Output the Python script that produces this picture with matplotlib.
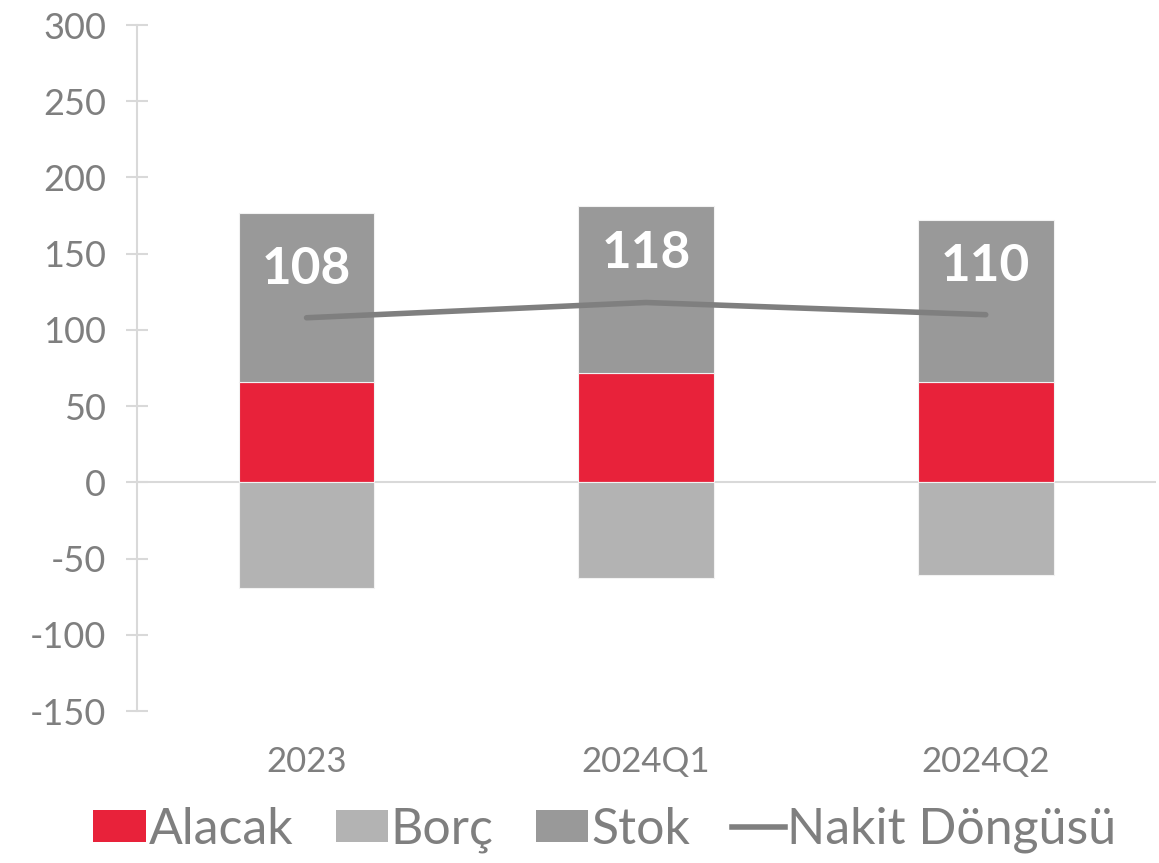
import matplotlib
matplotlib.use("Agg")
import matplotlib.pyplot as plt
from matplotlib.lines import Line2D
from matplotlib.patches import Patch

categories = ["2023", "2024Q1", "2024Q2"]
alacak = [66, 72, 66]
borc = [-69, -63, -61]
stok = [111, 109, 106]
nakit = [108, 118, 110]
yticks = [-150, -100, -50, 0, 50, 100, 150, 200, 250, 300]

plt.rcParams['font.family'] = ['Lato', 'DejaVu Sans']

c_alacak = "#e8223a"
c_borc = "#b3b3b3"
c_stok = "#999999"
c_line = "#7f7f7f"
c_text = "#7f7f7f"
c_axis = "#d9d9d9"

fig = plt.figure(figsize=(11.59, 8.63), dpi=100)
ax = fig.add_axes([0.118, 0.176, 0.879, 0.795])

x = list(range(len(categories)))
w = 0.4
ax.bar(x, alacak, width=w, color=c_alacak, edgecolor="#f2f2f2", linewidth=0.8, zorder=2)
ax.bar(x, borc, width=w, color=c_borc, edgecolor="#f2f2f2", linewidth=0.8, zorder=2)
ax.bar(x, stok, width=w, bottom=alacak, color=c_stok, edgecolor="#f2f2f2", linewidth=0.8, zorder=2)
ax.plot(x, nakit, color=c_line, linewidth=4, solid_capstyle="round", zorder=3)

for xi, v in zip(x, nakit):
    ax.annotate(str(v), (xi, v), xytext=(0, 35), textcoords="offset points",
                ha="center", va="center", fontsize=37, fontweight="bold",
                color="white", zorder=4)

ax.set_xlim(-0.5, 2.5)
ax.set_ylim(-150, 300)
ax.set_yticks(yticks)
ax.set_yticklabels([str(t) for t in yticks])
ax.set_xticks(x)
ax.set_xticklabels(categories)

ax.axhline(0, color=c_axis, linewidth=1.5, zorder=1)
for s in ["top", "right", "bottom"]:
    ax.spines[s].set_visible(False)
ax.spines["left"].set_color(c_axis)
ax.spines["left"].set_linewidth(1.5)

ax.tick_params(axis="y", direction="inout", length=16, width=1.5, color=c_axis,
               labelsize=26, labelcolor=c_text, pad=14)
ax.tick_params(axis="x", length=0, labelsize=25, labelcolor=c_text, pad=25)

handles = [Patch(facecolor=c_alacak, label="Alacak"),
           Patch(facecolor=c_borc, label="Borç"),
           Patch(facecolor=c_stok, label="Stok"),
           Line2D([0], [0], color=c_line, linewidth=4, label="Nakit Döngüsü")]
leg = fig.legend(handles=handles, loc="center", bbox_to_anchor=(0.522, 0.038), ncol=4,
                 frameon=False, fontsize=36, handlelength=1.05, handleheight=0.6,
                 handletextpad=0.05, columnspacing=0.85)
for t in leg.get_texts():
    t.set_color(c_text)

fig.savefig("out.png", dpi=100)
